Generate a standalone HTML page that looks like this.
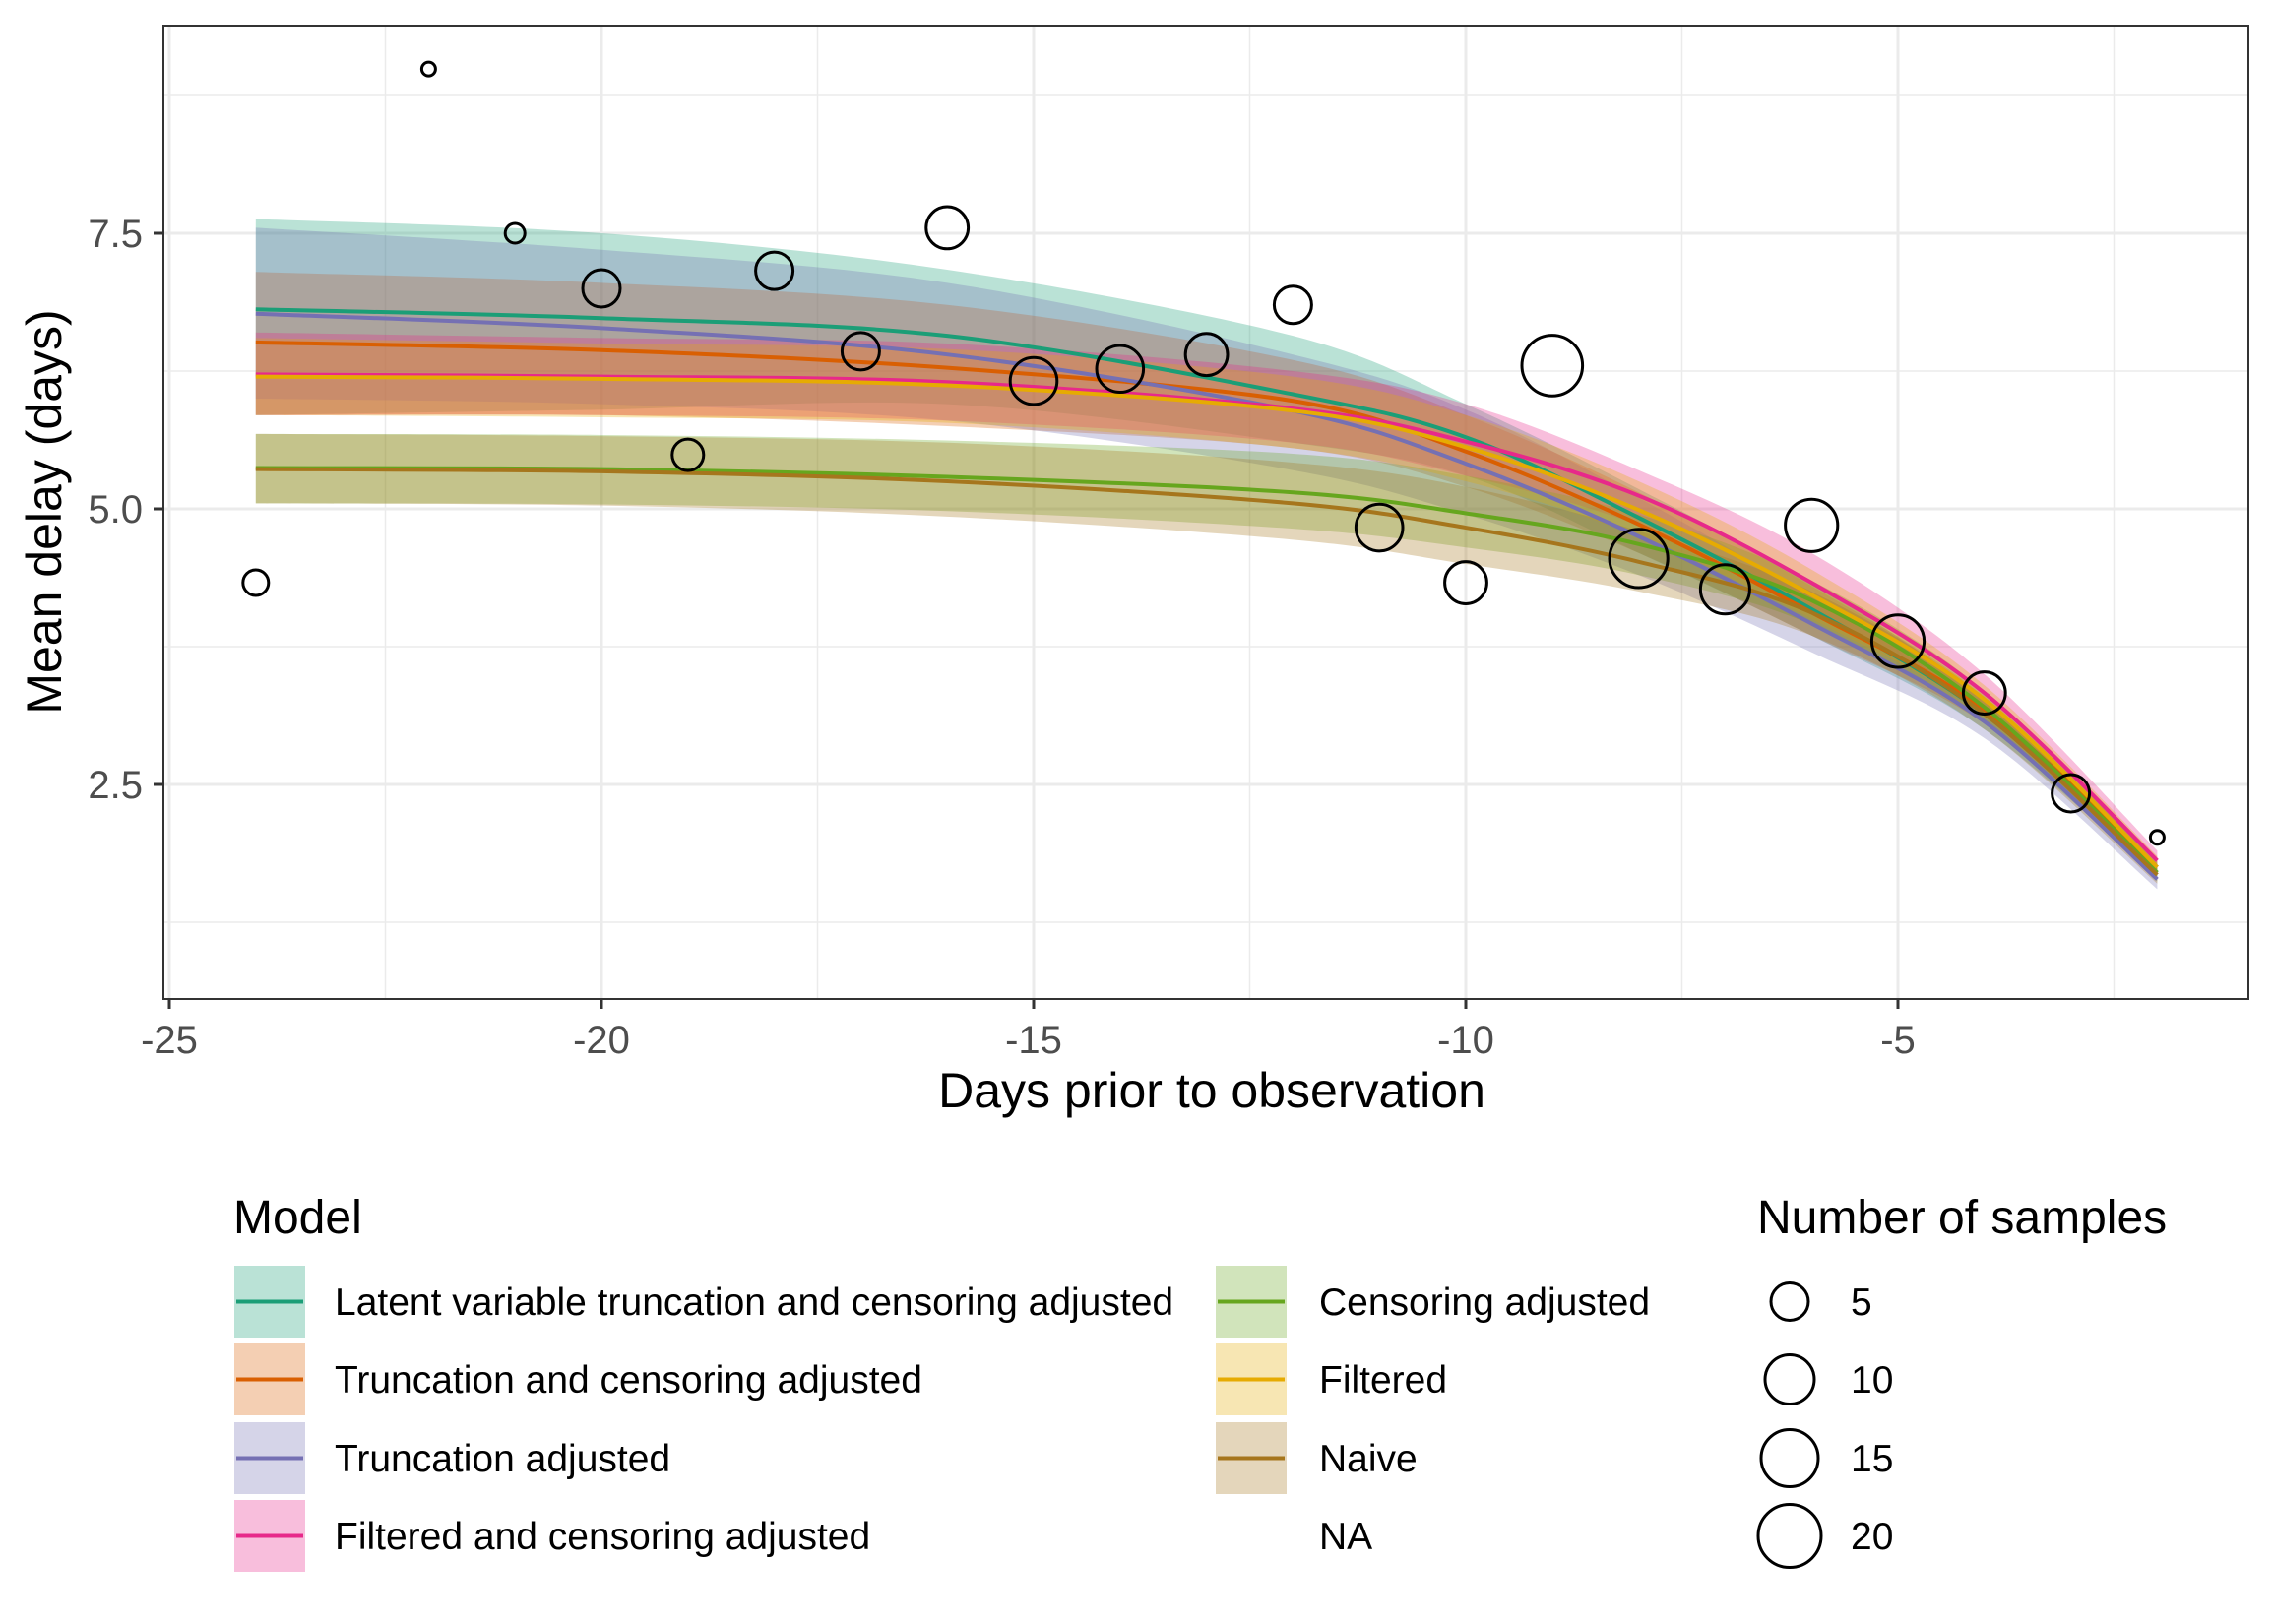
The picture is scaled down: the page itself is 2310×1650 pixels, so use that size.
<!DOCTYPE html>
<html><head><meta charset="utf-8">
<style>
html,body{margin:0;padding:0;background:#fff;}
svg{display:block;font-family:"Liberation Sans",Arial,sans-serif;}
</style></head>
<body>
<svg id="chart" width="2310" height="1650" viewBox="0 0 2310 1650" xmlns="http://www.w3.org/2000/svg">
<rect width="2310" height="1650" fill="#fff"/>
<g id="grid"></g>
<g id="ribbons"></g>
<g id="lines"></g>
<g id="points"></g>
<rect x="166" y="26" width="2118" height="989" fill="none" stroke="#333" stroke-width="2"/>
<g id="axes"></g>
<text x="1231" y="1125" font-size="50" text-anchor="middle" fill="#000">Days prior to observation</text>
<text transform="translate(62,520) rotate(-90)" font-size="50" text-anchor="middle" fill="#000">Mean delay (days)</text>
<g id="legend"></g>
</svg>
<script>
const xTicks=[-25,-20,-15,-10,-5];
const xMinor=[-22.5,-17.5,-12.5,-7.5,-2.5];
const yTicks=[2.5,5.0,7.5];
const yMinor=[1.25,3.75,6.25,8.75];
const yTickLabels=["2.5","5.0","7.5"];
const xTickLabels=["-25","-20","-15","-10","-5"];

const modelNames=["Latent variable truncation and censoring adjusted","Truncation and censoring adjusted","Truncation adjusted","Filtered and censoring adjusted","Censoring adjusted","Filtered","Naive"];
const modelColors=["#1b9e77","#d95f02","#7570b3","#e7298a","#66a61e","#e6ab02","#a6761d"];
const curveX=[-24,-20,-16,-12,-10,-8,-6,-4,-2];
const meanLatent=[6.81,6.73,6.57,6.04,5.65,4.92,4.09,3.14,1.75];
const loLatent=[5.85,5.9,5.95,5.6,5.3,4.6,3.85,3.0,1.65];
const hiLatent=[7.63,7.5,7.17,6.57,5.95,5.18,4.33,3.27,1.81];
const meanTC=[6.51,6.44,6.28,5.98,5.52,4.86,4.06,3.18,1.75];
const loTC=[5.85,5.85,5.75,5.55,5.2,4.6,3.85,3.05,1.68];
const hiTC=[7.15,7.05,6.85,6.35,5.85,5.15,4.3,3.3,1.8];
const meanT=[6.77,6.64,6.40,5.89,5.41,4.75,3.96,3.07,1.64];
const loT=[6.0,5.95,5.8,5.35,4.95,4.4,3.7,2.92,1.55];
const hiT=[7.55,7.35,7.05,6.4,5.9,5.1,4.2,3.2,1.72];
const meanFC=[6.22,6.2,6.15,5.91,5.61,5.12,4.33,3.33,1.81];
const loFC=[5.85,5.85,5.8,5.6,5.3,4.85,4.1,3.15,1.72];
const hiFC=[6.6,6.55,6.5,6.25,5.95,5.35,4.6,3.5,1.9];
const meanC=[5.37,5.36,5.29,5.15,4.96,4.68,4.17,3.2,1.7];
const loC=[5.05,5.04,4.98,4.82,4.65,4.4,3.95,3.05,1.62];
const hiC=[5.68,5.67,5.62,5.5,5.3,4.95,4.35,3.35,1.78];
const meanF=[6.2,6.18,6.12,5.89,5.56,4.99,4.22,3.27,1.75];
const loF=[5.85,5.83,5.78,5.55,5.25,4.75,4.0,3.12,1.68];
const hiF=[6.55,6.5,6.45,6.2,5.85,5.25,4.45,3.4,1.85];
const meanN=[5.36,5.34,5.25,5.05,4.83,4.52,4.06,3.14,1.68];
const loN=[5.05,5.03,4.93,4.72,4.5,4.25,3.85,3.0,1.6];
const hiN=[5.68,5.66,5.6,5.42,5.2,4.8,4.25,3.28,1.75];

const pointX=[-24,-22,-21,-20,-19,-18,-17,-16,-15,-14,-13,-12,-11,-10,-9,-8,-7,-6,-5,-4,-3,-2];
const pointY=[4.33,8.99,7.5,7.0,5.49,7.16,6.43,7.55,6.16,6.27,6.40,6.85,4.83,4.33,6.30,4.55,4.27,4.85,3.80,3.33,2.42,2.02];
const pointN=[3,1,2,5,4,5,5,7,9,9,7,5,9,7,18,16,10,12,12,7,5,1];
const sizeDomain=[1,5,10,15,20];
const sizeRange=[7,19,25,29,32];
const sizeLegend=[5,10,15,20];

const NS="http://www.w3.org/2000/svg";
function X(v){return 172+(v+25)*87.8;}
function Y(v){return 237-(v-7.5)*112;}
function R(n){for(let i=0;i<sizeDomain.length-1;i++){if(n<=sizeDomain[i+1]){const t=(n-sizeDomain[i])/(sizeDomain[i+1]-sizeDomain[i]);return sizeRange[i]+t*(sizeRange[i+1]-sizeRange[i]);}}return sizeRange[sizeRange.length-1];}
function mk(tag,attrs,parent){const e=document.createElementNS(NS,tag);for(const k in attrs)e.setAttribute(k,attrs[k]);parent.appendChild(e);return e;}
function smooth(pts){let d="M"+pts[0][0]+","+pts[0][1];for(let i=0;i<pts.length-1;i++){const p0=pts[i-1]||pts[i],p1=pts[i],p2=pts[i+1],p3=pts[i+2]||p2;const c1=[p1[0]+(p2[0]-p0[0])/6,p1[1]+(p2[1]-p0[1])/6];const c2=[p2[0]-(p3[0]-p1[0])/6,p2[1]-(p3[1]-p1[1])/6];d+=" C"+c1[0]+","+c1[1]+" "+c2[0]+","+c2[1]+" "+p2[0]+","+p2[1];}return d;}
function smoothCont(pts){return smooth(pts).replace(/^M/," L");}

const grid=document.getElementById('grid');
xMinor.forEach(v=>{const l=mk('line',{x1:X(v),x2:X(v),y1:26,y2:1015,stroke:'#ebebeb','stroke-width':1.5},grid);});
yMinor.forEach(v=>{const l=mk('line',{x1:166,x2:2284,y1:Y(v),y2:Y(v),stroke:'#ebebeb','stroke-width':1.5},grid);});
xTicks.forEach(v=>{const l=mk('line',{x1:X(v),x2:X(v),y1:26,y2:1015,stroke:'#ebebeb','stroke-width':3},grid);});
yTicks.forEach(v=>{const l=mk('line',{x1:166,x2:2284,y1:Y(v),y2:Y(v),stroke:'#ebebeb','stroke-width':3},grid);});

const models=[[meanLatent,loLatent,hiLatent],[meanTC,loTC,hiTC],[meanT,loT,hiT],[meanFC,loFC,hiFC],[meanC,loC,hiC],[meanF,loF,hiF],[meanN,loN,hiN]];
const rib=document.getElementById('ribbons'),lin=document.getElementById('lines');
models.forEach((m,i)=>{
  const hi=curveX.map((x,j)=>[X(x),Y(m[2][j])]);
  const lo=curveX.map((x,j)=>[X(x),Y(m[1][j])]).reverse();
  const p=mk('path',{d:smooth(hi)+smoothCont(lo)+" Z",fill:modelColors[i],'fill-opacity':0.3,stroke:'none'},rib);
  
  
});
models.forEach((m,i)=>{
  const pts=curveX.map((x,j)=>[X(x),Y(m[0][j])]);
  const p=mk('path',{d:smooth(pts),fill:'none',stroke:modelColors[i],'stroke-width':4},lin);
  
  
});
const pg=document.getElementById('points');
pointX.forEach((x,i)=>{
  const c=mk('circle',{cx:X(x),cy:Y(pointY[i]),r:R(pointN[i]),fill:'none',stroke:'#000','stroke-width':3},pg);
  
  
});
const ax=document.getElementById('axes');
xTicks.forEach((v,i)=>{
  const t=mk('line',{x1:X(v),x2:X(v),y1:1015,y2:1025,stroke:'#333','stroke-width':3},ax);
  
  
  const l=mk('text',{x:X(v),y:1070,'font-size':40,'text-anchor':'middle',fill:'#4d4d4d'},ax);
  l.textContent=xTickLabels[i];
  
  
});
yTicks.forEach((v,i)=>{
  const t=mk('line',{x1:156,x2:166,y1:Y(v),y2:Y(v),stroke:'#333','stroke-width':3},ax);
  
  
  const l=mk('text',{x:145,y:Y(v)+14,'font-size':40,'text-anchor':'end',fill:'#4d4d4d'},ax);
  l.textContent=yTickLabels[i];
  
  
});
const lg=document.getElementById('legend');
const t1=mk('text',{x:237,y:1253,'font-size':48,fill:'#000'},lg);
t1.textContent='Model';


const t2=mk('text',{x:1785,y:1253,'font-size':48,fill:'#000'},lg);
t2.textContent='Number of samples';


const rowY=[1286,1365,1445,1524];
const entries=modelNames.concat(["NA"]);
entries.forEach((name,i)=>{
  const col=i<4?0:1,row=i%4;
  const kx=col?1235:238,tx=col?1340:340,ky=rowY[row];
  const g=mk('g',{},lg);
  
  
  if(i<7){
    mk('rect',{x:kx,y:ky,width:72,height:73,fill:modelColors[i],'fill-opacity':0.3},g);
    mk('line',{x1:kx+2,x2:kx+70,y1:ky+36.5,y2:ky+36.5,stroke:modelColors[i],'stroke-width':4},g);
  }
  const t=mk('text',{x:tx,y:ky+50,'font-size':39,fill:'#000'},g);
  t.textContent=name;
});
sizeLegend.forEach((n,i)=>{
  const g=mk('g',{},lg);
  
  
  mk('circle',{cx:1818,cy:rowY[i]+36.5,r:R(n),fill:'none',stroke:'#000','stroke-width':3},g);
  const t=mk('text',{x:1880,y:rowY[i]+50,'font-size':39,fill:'#000'},g);
  t.textContent=String(n);
});
</script>
</body></html>
